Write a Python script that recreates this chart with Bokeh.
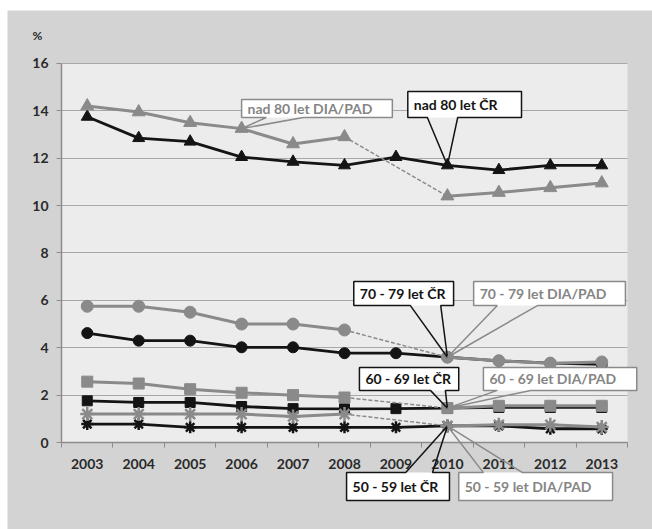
import numpy as np
from bokeh.plotting import figure
from bokeh.models import (FixedTicker, Range1d, BoxAnnotation, PolyAnnotation, Label,
                          LinearAxis, Grid)
from bokeh.embed import file_html
from bokeh.resources import INLINE

# ---------------- data ----------------
years = ["2003", "2004", "2005", "2006", "2007", "2008", "2009", "2010", "2011", "2012", "2013"]
y_ticks = [0, 2, 4, 6, 8, 10, 12, 14, 16]

cr_80 = [13.75, 12.85, 12.7, 12.05, 11.85, 11.7, 12.05, 11.7, 11.5, 11.7, 11.7]
dia_80 = [14.2, 13.95, 13.5, 13.25, 12.6, 12.9, None, 10.4, 10.55, 10.75, 10.95]
cr_70 = [4.62, 4.3, 4.3, 4.02, 4.02, 3.77, 3.77, 3.6, 3.45, 3.35, 3.3]
dia_70 = [5.75, 5.75, 5.5, 5.0, 5.0, 4.75, None, 3.6, 3.45, 3.35, 3.4]
cr_60 = [1.76, 1.69, 1.69, 1.52, 1.43, 1.42, 1.43, 1.45, 1.48, 1.48, 1.48]
dia_60 = [2.57, 2.49, 2.25, 2.1, 2.0, 1.9, None, 1.45, 1.55, 1.55, 1.55]
cr_50 = [0.78, 0.78, 0.64, 0.64, 0.64, 0.64, 0.64, 0.7, 0.7, 0.58, 0.58]
dia_50 = [1.2, 1.2, 1.2, 1.2, 1.1, 1.2, None, 0.7, 0.75, 0.75, 0.65]

FONT = "Lato"
BLACK = "#141414"
GRAY = "#8a8a8a"
OUTER = "#d3d3d3"
INNER = "#ececec"
AXIS = "#8c8c8c"

n = len(years)
xs = list(range(n))
X0, X1 = -0.5, n - 0.5
Y0, Y1 = 0, 16

# frame covers the whole grey panel so that callouts below the axis are not clipped
p = figure(width=645, height=519, output_backend="svg", toolbar_location=None,
           x_range=Range1d(-1.55, 10.986), y_range=Range1d(-3.672, 18.236),
           x_axis_type=None, y_axis_type=None,
           min_border=0,
           background_fill_color=OUTER, border_fill_color=OUTER,
           outline_line_color=None)
p.margin = (10, 0, 0, 7)

# light plot area
p.add_layout(BoxAnnotation(left=X0, right=X1, bottom=Y0, top=Y1, fill_color=INNER,
                           fill_alpha=1, line_color=None, level="image"))

# y axis
yax = LinearAxis(fixed_location=X0, bounds=(Y0, Y1), ticker=FixedTicker(ticks=y_ticks))
yax.major_tick_out = 5
yax.major_tick_in = 0
yax.minor_tick_line_color = None
yax.major_label_standoff = 8
p.add_layout(yax, "left")

# x axis (category labels centred, tick marks at category boundaries)
xax = LinearAxis(fixed_location=Y0, bounds=(X0, X1),
                 ticker=FixedTicker(ticks=xs, minor_ticks=[i - 0.5 for i in range(n + 1)]))
xax.major_label_overrides = {i: y for i, y in enumerate(years)}
xax.major_tick_out = 0
xax.major_tick_in = 0
xax.minor_tick_out = 5
xax.minor_tick_in = 0
xax.major_label_standoff = 11
p.add_layout(xax, "below")

for ax in (xax, yax):
    ax.axis_line_color = AXIS
    ax.axis_line_width = 1.5
    ax.major_tick_line_color = AXIS
    ax.major_label_text_font = FONT
    ax.major_label_text_font_style = "bold"
    ax.major_label_text_font_size = "14px"
    ax.major_label_text_color = "#2a2a2a"
xax.minor_tick_line_color = AXIS

grid = Grid(dimension=1, ticker=FixedTicker(ticks=y_ticks[1:]), cross_bounds=(X0, X1),
            grid_line_color="#a8a8a8", grid_line_width=1)
p.add_layout(grid)


def series(vals, color, marker, size, lw):
    ys = [np.nan if v is None else v for v in vals]
    p.line(xs, ys, line_color=color, line_width=lw)
    for i, v in enumerate(vals):
        if v is None and 0 < i < len(vals) - 1:
            p.line([i - 1, i + 1], [vals[i - 1], vals[i + 1]], line_color=GRAY,
                   line_width=1.5, line_dash="4 2")
    vx = [i for i, v in enumerate(vals) if v is not None]
    vy = [v for v in vals if v is not None]
    p.scatter(vx, vy, marker=marker, size=size, fill_color=color, line_color=color,
              line_width=2.5 if marker == "asterisk" else 1)


series(cr_80, BLACK, "triangle", 12, 2.8)
series(cr_70, BLACK, "circle", 11, 2.8)
series(cr_60, BLACK, "square", 10, 2.8)
series(cr_50, BLACK, "asterisk", 12, 2.8)
series(dia_80, GRAY, "triangle", 13, 3)
series(dia_70, GRAY, "circle", 12, 3)
series(dia_60, GRAY, "square", 11, 3)
series(dia_50, GRAY, "asterisk", 14, 3)

# "%" unit label
p.add_layout(Label(x=X0, y=Y1, x_offset=-24, y_offset=28, text="%",
                   text_font=FONT, text_font_style="bold", text_font_size="12px",
                   text_color="#2a2a2a", text_align="center", text_baseline="middle"))

# callouts: (text, is_cr, left, right, bottom, top, base0, base1, tip_x, tip_y, pointer side)
callouts = [
    ("nad 80 let DIA/PAD", False, 3.00, 5.93, 13.72, 14.48, 3.48, 4.20, 3, dia_80[3], "bottom"),
    ("nad 80 let ČR", True, 6.23, 8.44, 13.72, 14.82, 6.61, 7.20, 7, cr_80[7], "bottom"),
    ("70 - 79 let ČR", True, 5.18, 7.12, 5.78, 6.80, 6.28, 6.87, 7, cr_70[7], "bottom"),
    ("70 - 79 let DIA/PAD", False, 7.51, 10.46, 5.78, 6.80, 7.97, 8.75, 7, dia_70[7], "bottom"),
    ("60 - 69 let ČR", True, 5.29, 7.22, 2.20, 3.17, 6.67, 6.96, 7, cr_60[7], "bottom"),
    ("60 - 69 let DIA/PAD", False, 7.70, 10.68, 2.20, 3.17, 7.97, 8.62, 7, dia_60[7], "bottom"),
    ("50 - 59 let ČR", True, 5.04, 7.04, -2.45, -1.27, 6.19, 6.71, 7, cr_50[7], "top"),
    ("50 - 59 let DIA/PAD", False, 7.22, 10.21, -2.45, -1.27, 7.70, 8.46, 7, dia_50[7], "top"),
]

for text, is_cr, l, r, b, t, b0, b1, tx, ty, side in callouts:
    lc = BLACK if is_cr else GRAY
    p.add_layout(BoxAnnotation(left=l, right=r, bottom=b, top=t, fill_color="white",
                               fill_alpha=1, line_color=None))
    if side == "bottom":
        px = [l, r, r, b1, tx, b0, l]
        py = [t, t, b, b, ty, b, b]
    else:
        px = [l, r, r, b1, tx, b0, l]
        py = [b, b, t, t, ty, t, t]
    p.add_layout(PolyAnnotation(xs=px, ys=py, fill_alpha=0, line_color=lc,
                                line_alpha=1, line_width=1.5))
    p.add_layout(Label(x=l, y=(b + t) / 2, x_offset=6, text=text, text_font=FONT,
                       text_font_style="bold", text_font_size="14px",
                       text_color="#141414" if is_cr else "#858585",
                       text_baseline="middle", text_align="left"))

open("out.html", "w").write(file_html(p, INLINE))
